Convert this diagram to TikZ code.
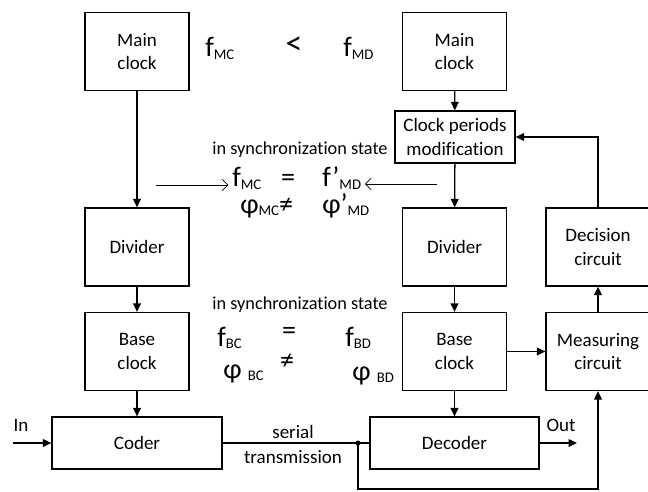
\documentclass[tikz,border=0pt]{standalone}
\usepackage{fontspec}
\setmainfont{Carlito}[Ligatures=NoCommon]
\usetikzlibrary{arrows.meta}

\newcommand{\lo}[1]{\raisebox{-2pt}{\fontsize{10.5}{10.5}\selectfont #1}}

\tikzset{
  blk/.style={draw, line width=0.9pt, minimum width=2.6cm, minimum height=1.95cm,
    align=center, inner sep=0pt, font=\fontsize{13.5}{17}\selectfont},
  conn/.style={line width=0.9pt, -{Triangle[length=6pt,width=5.5pt]}},
  syncarrow/.style={line width=0.5pt, -{Straight Barb[length=4pt,width=8pt]}, shorten >=2.5},
  frm/.style={font=\fontsize{20}{22}\selectfont, inner sep=0pt, anchor=base west},
  txt/.style={font=\fontsize{13.5}{17}\selectfont, inner sep=0pt},
  sync/.style={font=\fontsize{13}{15}\selectfont, inner sep=0pt},
}

\begin{document}
\begin{tikzpicture}[x=0.025cm, y=-0.025cm]
	\useasboundingbox (0,0) rectangle (648,491);
	
	% clock side
	\node[blk] (mcL) at (137,51.5) {Main\\clock};
	\node[blk] (divL) at (137,247) {Divider};
	\node[blk] (bcL) at (137,351.5) {Base\\clock};
	\node[blk, minimum width=4.25cm, minimum height=1.3cm] (coder) at (137,443) {Coder};
	
	% data side
	\node[blk] (mcR) at (454.5,51.5) {Main\\clock};
	\node[blk, minimum width=3cm, minimum height=1.3cm] (cpm) at (455,137) {Clock periods\\modification};
	\node[blk] (divR) at (454.5,247) {Divider};
	\node[blk] (bcR) at (454.5,351.5) {Base\\clock};
	\node[blk, minimum width=4.225cm, minimum height=1.3cm] (decoder) at (454.5,443) {Decoder};
	\node[blk] (dec) at (598,247) {Decision\\circuit};
	\node[blk] (meas) at (598,351.5) {Measuring\\circuit};
	
	% frequencies and phases
	\node[frm] (fmc) at (205,57) {f\lo{MC}};
	\node[frm, anchor=center, font=\fontsize{24}{24}\selectfont] (lt) at (294,46) {<};
	\node[frm] (fmd) at (343,57) {f\lo{MD}};
	
	\node[sync] (sync1) at (300,150) {in synchronization state};
	\node[frm] (fmc2) at (232,187) {f\lo{MC}};
	\node[frm, anchor=center] (eq1) at (288,180) {=};
	\node[frm] (fmd2) at (322,187) {f’\lo{MD}};
	\node[frm] (pmc) at (240,213) {φ\lo{MC}≠};
	\node[frm] (pmd) at (322,213) {φ’\lo{MD}};
	
	\node[sync] (sync2) at (300,305) {in synchronization state};
	\node[frm] (fbc) at (217,346) {f\lo{BC}};
	\node[frm, anchor=center] (eq2) at (289,333) {=};
	\node[frm] (fbd) at (345,346) {f\lo{BD}};
	\node[frm] (pbc) at (223,378) {φ \lo{BC}};
	\node[frm, anchor=center] (ne2) at (287,362) {≠};
	\node[frm] (pbd) at (352,380) {φ \lo{BD}};
	
	% in / out and link
	\coordinate (in) at (13,443);
	\coordinate (out) at (577,443);
	\coordinate (jn) at (358,443);
	\coordinate (low) at (358,489);
	\node[txt] (inlbl) at (21,425) {In};
	\node[txt] (outlbl) at (561,425) {Out};
	\node[txt] (serial) at (293,432) {serial};
	\node[txt] (trans) at (293,457) {transmission};
	
	\draw[conn] (mcL) -- (divL);
	\draw[conn] (divL) -- (bcL);
	\draw[conn] (bcL) -- (coder);
	\draw[conn] (mcR) -- (cpm);
	\draw[conn] (cpm) -- (divR);
	\draw[conn] (divR) -- (bcR);
	\draw[conn] (bcR) -- (decoder);
	\draw[conn] (bcR) -- (meas);
	\draw[conn] (meas) -- (dec);
	\draw[conn] (dec.north) |- (cpm.east);
	\draw[conn] (in) -- (coder);
	\draw[conn] (decoder) -- (out);
	\draw[line width=0.9pt] (coder) -- (decoder);
	\draw[conn] (jn) -- (low) -| (meas.south);
	\fill (jn) circle (2.5);
	
	\coordinate (sl) at (156,185);
	\coordinate (sr) at (437,184);
	\draw[syncarrow] (sl) -- (fmc2.west |- sl);
	\draw[syncarrow] (sr) -- (fmd2.east |- sr);
\end{tikzpicture}
\end{document}
